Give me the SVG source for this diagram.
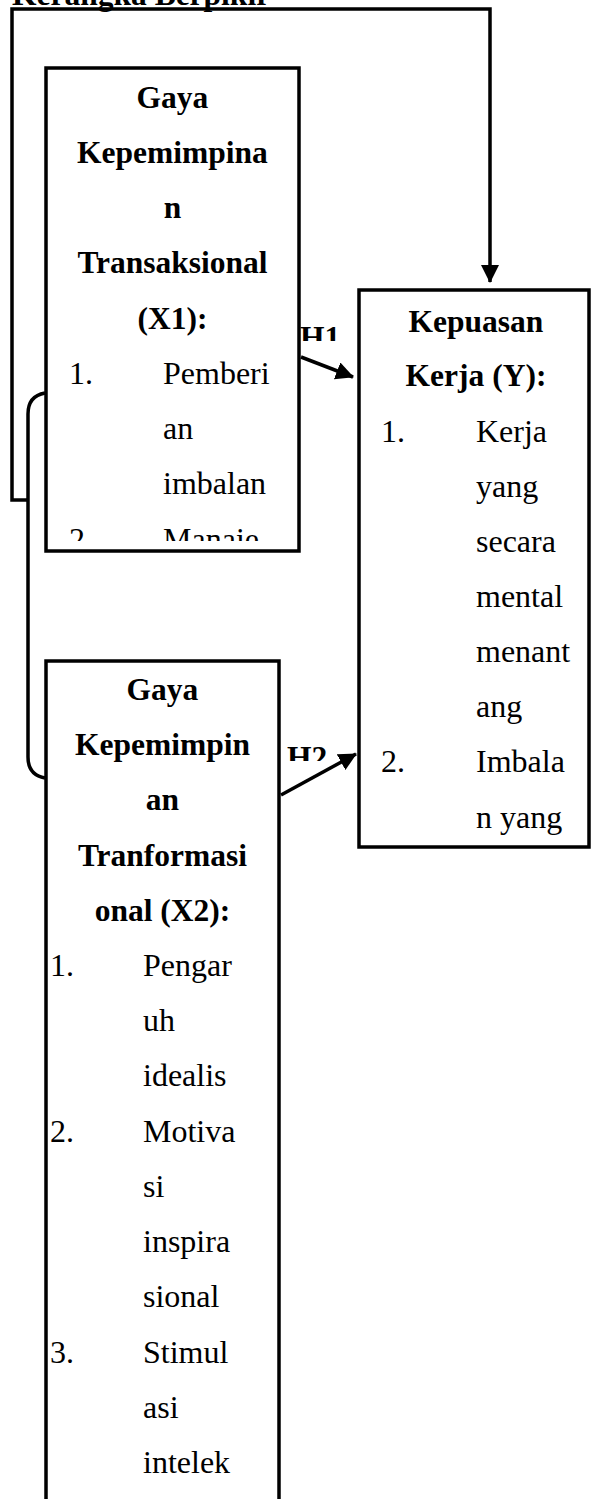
<svg xmlns="http://www.w3.org/2000/svg" width="592" height="1499" viewBox="0 0 592 1499">
<style>
.b{font-family:"Liberation Serif","Times New Roman",serif;font-weight:bold;font-size:31.5px;fill:#000}
.r{font-family:"Liberation Serif","Times New Roman",serif;font-size:32px;fill:#000}
.c{text-anchor:middle}
.box{fill:#fff;stroke:#000;stroke-width:3.5}
.ln{fill:none;stroke:#000;stroke-width:3.5}
</style>
<defs>
<marker id="ah" markerUnits="userSpaceOnUse" markerWidth="18" markerHeight="18" viewBox="0 0 18 18" refX="17" refY="9" orient="auto">
<path d="M0,0 L18,9 L0,18 Z" fill="#000"/>
</marker>
<clipPath id="cx1"><rect x="46" y="68" width="253" height="473"/></clipPath>
<clipPath id="cy"><rect x="359" y="290" width="230" height="550"/></clipPath>
<clipPath id="cx2"><rect x="46" y="661" width="233" height="838"/></clipPath>
<clipPath id="ch1"><rect x="296" y="320" width="50" height="21"/></clipPath>
<clipPath id="ch2"><rect x="283" y="740" width="50" height="21"/></clipPath>
</defs>
<text class="b" x="12" y="5">Kerangka Berpikir</text>
<g id="connectors">
<path class="ln" d="M28,500 H12 V9 H490 V282" marker-end="url(#ah)"/>
<path class="ln" d="M45,393 Q28,396 28,414 V757 Q28,775 45,778"/>
<line class="ln" x1="301" y1="357" x2="353" y2="377" marker-end="url(#ah)"/>
<line class="ln" x1="281" y1="795" x2="356" y2="754" marker-end="url(#ah)"/>
<g clip-path="url(#ch1)"><text class="b" x="300" y="348">H1</text></g>
<g clip-path="url(#ch2)"><text class="b" x="287" y="768">H2</text></g>
</g>
<g id="x1">
<rect class="box" x="46" y="68" width="253" height="483"/>
<g clip-path="url(#cx1)">
<text class="b c" x="172.5" y="108">Gaya</text>
<text class="b c" x="172.5" y="163">Kepemimpina</text>
<text class="b c" x="172.5" y="218">n</text>
<text class="b c" x="172.5" y="273">Transaksional</text>
<text class="b c" x="172.5" y="329">(X1):</text>
<text class="r" x="69" y="384">1.</text><text class="r" x="163" y="384">Pemberi</text>
<text class="r" x="163" y="439">an</text>
<text class="r" x="163" y="494">imbalan</text>
<text class="r" x="69" y="550">2.</text><text class="r" x="163" y="550">Manaje</text>
</g>
</g>
<g id="y">
<rect class="box" x="359" y="290" width="230" height="557"/>
<g clip-path="url(#cy)">
<text class="b c" x="476" y="332">Kepuasan</text>
<text class="b c" x="476" y="386">Kerja (Y):</text>
<text class="r" x="381" y="442">1.</text><text class="r" x="476" y="442">Kerja</text>
<text class="r" x="476" y="497">yang</text>
<text class="r" x="476" y="552">secara</text>
<text class="r" x="476" y="607">mental</text>
<text class="r" x="476" y="662">menant</text>
<text class="r" x="476" y="717">ang</text>
<text class="r" x="381" y="772">2.</text><text class="r" x="476" y="772">Imbala</text>
<text class="r" x="476" y="828">n yang</text>
</g>
</g>
<g id="x2">
<rect class="box" x="46" y="661" width="233" height="850"/>
<g clip-path="url(#cx2)">
<text class="b c" x="162.5" y="700">Gaya</text>
<text class="b c" x="162.5" y="755">Kepemimpin</text>
<text class="b c" x="162.5" y="810">an</text>
<text class="b c" x="162.5" y="866">Tranformasi</text>
<text class="b c" x="162.5" y="921">onal (X2):</text>
<text class="r" x="50" y="976">1.</text><text class="r" x="143" y="976">Pengar</text>
<text class="r" x="143" y="1031">uh</text>
<text class="r" x="143" y="1086">idealis</text>
<text class="r" x="50" y="1142">2.</text><text class="r" x="143" y="1142">Motiva</text>
<text class="r" x="143" y="1197">si</text>
<text class="r" x="143" y="1252">inspira</text>
<text class="r" x="143" y="1307">sional</text>
<text class="r" x="50" y="1363">3.</text><text class="r" x="143" y="1363">Stimul</text>
<text class="r" x="143" y="1418">asi</text>
<text class="r" x="143" y="1473">intelek</text>
</g>
</g>
</svg>
